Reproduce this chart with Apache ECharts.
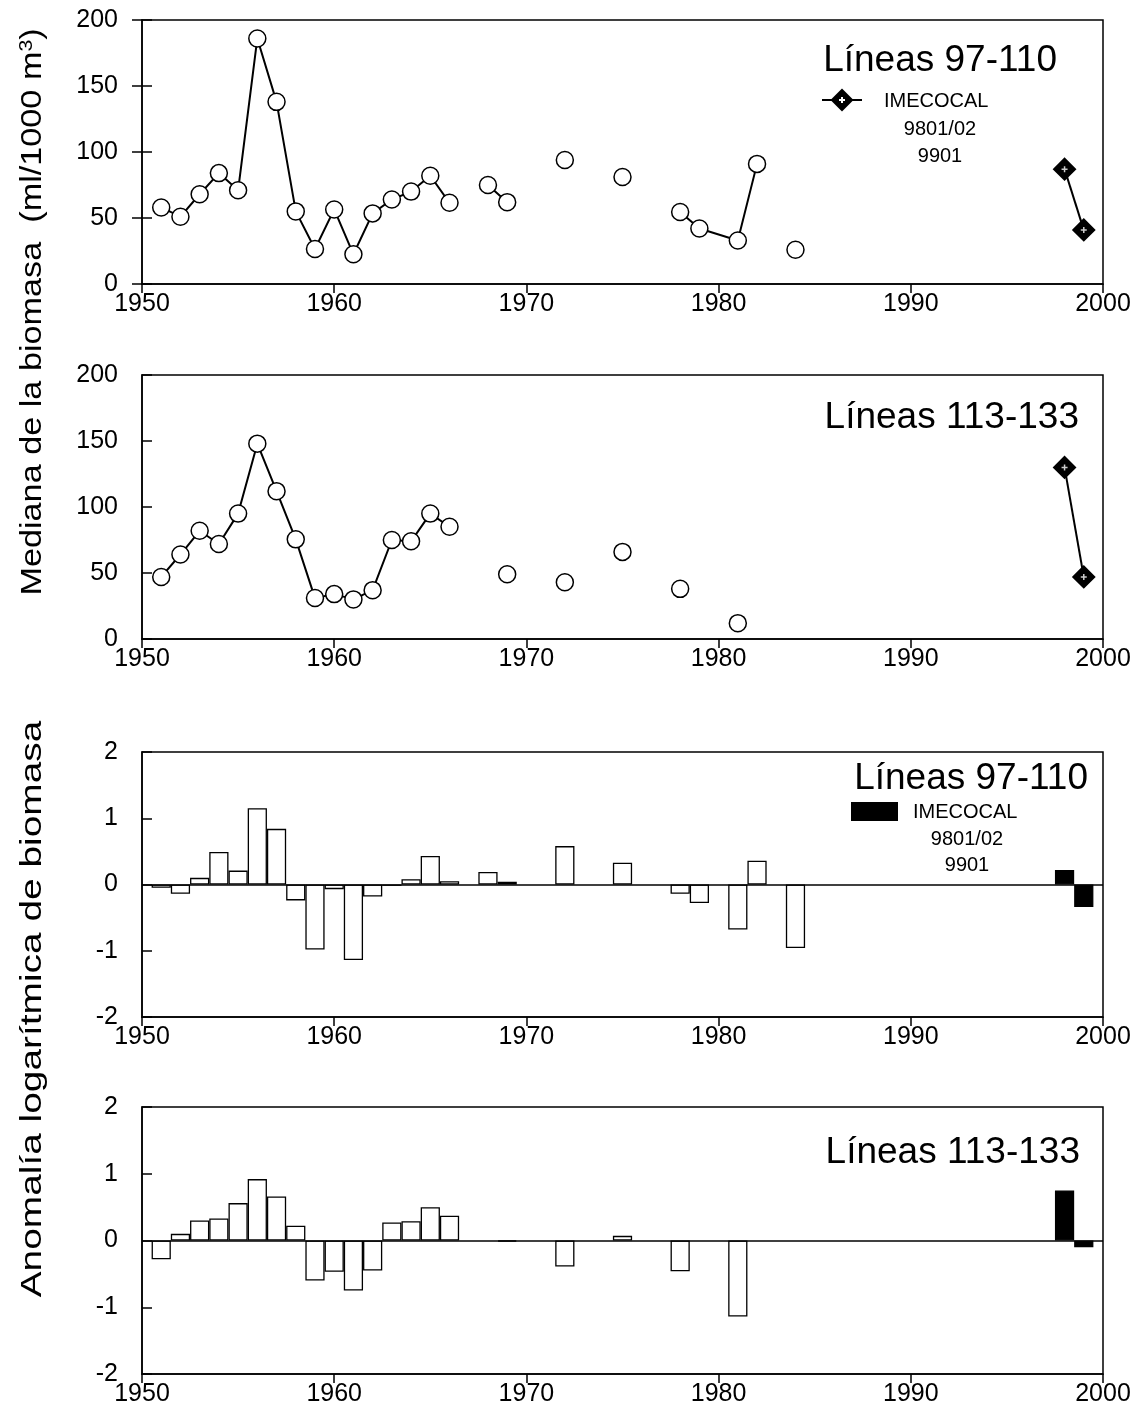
<!DOCTYPE html>
<html>
<head>
<meta charset="utf-8">
<script src="https://cdn.jsdelivr.net/npm/echarts@6/dist/echarts.min.js"></script>
<style>
  html, body { margin: 0; padding: 0; background: #fff; }
  #main { width: 1141px; height: 1426px; }
</style>
</head>
<body>
<div id="main"></div>
<script>
// --- datos: mediana de la biomasa, Líneas 97-110 (null = hueco en la línea)
var bio97Years = [1951, 1952, 1953, 1954, 1955, 1956, 1957, 1958, 1959, 1960, 1961, 1962, 1963, 1964, 1965, 1966,
                  1967, 1968, 1969, 1970, 1972, 1973, 1975, 1976, 1978, 1979, 1981, 1982, 1983, 1984];
var bio97Vals  = [58, 51, 68, 84, 71, 186, 138, 55, 26.5, 56.5, 22.5, 53.5, 64, 70, 82, 61.5,
                  null, 75, 62, null, 94, null, 81, null, 54.5, 42, 33, 91, null, 26];

// --- Líneas 113-133
var bio113Years = [1951, 1952, 1953, 1954, 1955, 1956, 1957, 1958, 1959, 1960, 1961, 1962, 1963, 1964, 1965, 1966,
                   1967, 1969, 1970, 1972, 1973, 1975, 1976, 1978, 1979, 1981];
var bio113Vals  = [47, 64, 82, 72, 95, 148, 112, 75.5, 31, 34, 30, 37, 75, 74, 95, 85,
                   null, 49, null, 43, null, 66, null, 38, null, 12];

// --- IMECOCAL (9801/02, 9901)
var imeYears = [1998, 1999];
var imeBio97 = [87, 41];
var imeBio113 = [130, 47];

// --- anomalía logarítmica de biomasa
var anom97Years = [1951, 1952, 1953, 1954, 1955, 1956, 1957, 1958, 1959, 1960, 1961, 1962, 1963, 1964, 1965, 1966,
                   1968, 1969, 1972, 1975, 1978, 1979, 1981, 1982, 1984];
var anom97Vals  = [-0.05, -0.14, 0.1, 0.49, 0.21, 1.15, 0.84, -0.24, -0.98, -0.07, -1.14, -0.18, -0.02, 0.08, 0.43, 0.05,
                   0.19, 0.04, 0.58, 0.33, -0.14, -0.28, -0.68, 0.36, -0.96];
var anom113Years = [1951, 1952, 1953, 1954, 1955, 1956, 1957, 1958, 1959, 1960, 1961, 1962, 1963, 1964, 1965, 1966,
                    1969, 1972, 1975, 1978, 1981];
var anom113Vals  = [-0.28, 0.1, 0.3, 0.33, 0.56, 0.92, 0.66, 0.22, -0.6, -0.47, -0.75, -0.45, 0.27, 0.29, 0.5, 0.37,
                    -0.015, -0.39, 0.07, -0.46, -1.14];
var imeAnom97 = [0.22, -0.34];
var imeAnom113 = [0.75, -0.1];

var xTicks = [1950, 1960, 1970, 1980, 1990, 2000];

var FONT = '"Liberation Sans", Arial, sans-serif';
var gridLeft = 142, gridWidth = 961;
var barW = gridWidth / (xTicks[xTicks.length - 1] - xTicks[0]);

function pairs(years, vals) {
    return years.map(function (y, i) { return [y, vals[i] == null ? '-' : vals[i]]; });
}

var myChart = echarts.init(document.getElementById('main'));

var grids = [
    {top: 20, height: 264},
    {top: 375, height: 264},
    {top: 752, height: 265},
    {top: 1107, height: 267}
].map(function (g) {
    return {left: gridLeft, width: gridWidth, top: g.top, height: g.height,
        show: true, borderColor: '#000', borderWidth: 1.5, backgroundColor: 'transparent'};
});

var xAxes = grids.map(function (g, i) {
    return {
        type: 'value', gridIndex: i, min: 1950, max: 2000, interval: 10,
        axisLine: {onZero: false, lineStyle: {color: '#000', width: 1.5}},
        axisTick: {show: true, inside: false, length: 9, lineStyle: {color: '#000', width: 1.5}},
        axisLabel: {color: '#000', fontSize: 25, fontFamily: FONT, margin: 8,
            formatter: function (v) { return String(v); }},
        splitLine: {show: false}
    };
});

function yAxis(i, min, max, interval) {
    return {
        type: 'value', gridIndex: i, position: 'left', min: min, max: max, interval: interval,
        axisLine: {show: true, onZero: false, lineStyle: {color: '#000', width: 1.5}},
        axisTick: {show: true, inside: true, length: 10, lineStyle: {color: '#000', width: 1.5}},
        axisLabel: {color: '#000', fontSize: 25, fontFamily: FONT, margin: 24},
        splitLine: {show: false}
    };
}

var yAxes = [
    yAxis(0, 0, 200, 50),
    yAxis(1, 0, 200, 50),
    yAxis(2, -2, 2, 1),
    yAxis(3, -2, 2, 1),
    // marcas exteriores del primer panel
    {type: 'value', gridIndex: 0, position: 'left', offset: 0, min: 0, max: 200, interval: 50,
        axisLine: {show: false, onZero: false}, axisLabel: {show: false}, splitLine: {show: false},
        axisTick: {show: true, inside: false, length: 10, lineStyle: {color: '#000', width: 1.5}}}
];

var crossPath = 'path://M3,0H5V3H8V5H5V8H3V5H0V3H3Z';

function circleLine(i, years, vals) {
    return {
        type: 'line', xAxisIndex: i, yAxisIndex: i, data: pairs(years, vals),
        symbol: 'circle', symbolSize: 17, showAllSymbol: true, connectNulls: false,
        lineStyle: {color: '#000', width: 2},
        itemStyle: {color: '#fff', borderColor: '#000', borderWidth: 1.5},
        z: 3
    };
}

function imeLine(i, vals) {
    return [{
        type: 'line', xAxisIndex: i, yAxisIndex: i, data: pairs(imeYears, vals),
        symbol: 'diamond', symbolSize: 21,
        lineStyle: {color: '#000', width: 2},
        itemStyle: {color: '#000', borderColor: '#000', borderWidth: 2}, z: 3
    }, {
        type: 'scatter', xAxisIndex: i, yAxisIndex: i, data: pairs(imeYears, vals),
        symbol: crossPath, symbolSize: 6, itemStyle: {color: '#fff'}, z: 4
    }];
}

function bars(i, years, vals, imeVals) {
    var data = pairs(years, vals).map(function (d) {
        return {value: d};
    }).concat(pairs(imeYears, imeVals).map(function (d) {
        return {value: d, itemStyle: {color: '#000'}};
    }));
    return {
        type: 'bar', xAxisIndex: i, yAxisIndex: i, data: data, barWidth: barW,
        itemStyle: {color: '#fff', borderColor: '#000', borderWidth: 1.3},
        markLine: {
            silent: true, symbol: 'none', label: {show: false},
            lineStyle: {color: '#000', width: 1.5, type: 'solid'},
            data: [{yAxis: 0}]
        }
    };
}

var series = [circleLine(0, bio97Years, bio97Vals), circleLine(1, bio113Years, bio113Vals)]
    .concat(imeLine(0, imeBio97))
    .concat(imeLine(1, imeBio113))
    .concat([bars(2, anom97Years, anom97Vals, imeAnom97), bars(3, anom113Years, anom113Vals, imeAnom113)]);

function txt(x, y, text, size, align) {
    return {type: 'text', x: x, y: y, z: 10,
        style: {text: text, fill: '#000', font: size + 'px ' + FONT,
            textAlign: align || 'left', textVerticalAlign: 'middle'}};
}

var graphic = [
    // títulos de los paneles
    txt(1057, 61, 'Líneas 97-110', 37, 'right'),
    txt(1079, 418, 'Líneas 113-133', 37, 'right'),
    txt(1088, 779, 'Líneas 97-110', 37, 'right'),
    txt(1080, 1153, 'Líneas 113-133', 37, 'right'),
    // leyenda panel 1
    {type: 'line', shape: {x1: 822, y1: 100, x2: 862, y2: 100}, style: {stroke: '#000', lineWidth: 2}, z: 10},
    {type: 'polygon', shape: {points: [[842, 88.5], [853.5, 100], [842, 111.5], [830.5, 100]]}, style: {fill: '#000'}, z: 11},
    {type: 'polygon', shape: {points: [[841, 97], [843, 97], [843, 99], [845, 99], [845, 101], [843, 101], [843, 103], [841, 103], [841, 101], [839, 101], [839, 99], [841, 99]]}, style: {fill: '#fff'}, z: 12},
    txt(884, 101, 'IMECOCAL', 20),
    txt(940, 129, '9801/02', 20, 'center'),
    txt(940, 156, '9901', 20, 'center'),
    // leyenda panel 3
    {type: 'rect', shape: {x: 851, y: 802, width: 47, height: 19}, style: {fill: '#000'}, z: 10},
    txt(913, 812, 'IMECOCAL', 20),
    txt(967, 839, '9801/02', 20, 'center'),
    txt(967, 865, '9901', 20, 'center'),
    // títulos de eje y (estirados a lo largo del texto como en el original)
    {type: 'text', x: 33, y: 312, rotation: Math.PI / 2, scaleX: 1.18, z: 10,
        style: {text: 'Mediana de la biomasa  (ml/1000 m{sup|3})', fill: '#000', font: '29px ' + FONT,
            textAlign: 'center', textVerticalAlign: 'middle',
            rich: {sup: {fontSize: 18, fontFamily: FONT, fill: '#000', verticalAlign: 'top', padding: [0, 0, 12, 0]}}}},
    {type: 'text', x: 33, y: 1009, rotation: Math.PI / 2, scaleX: 1.34, z: 10,
        style: {text: 'Anomalía logarítmica de biomasa', fill: '#000', font: '29px ' + FONT,
            textAlign: 'center', textVerticalAlign: 'middle'}}
];

var option = {
    backgroundColor: '#fff',
    animation: false,
    grid: grids,
    xAxis: xAxes,
    yAxis: yAxes,
    series: series,
    graphic: graphic
};

myChart.setOption(option);
</script>
</body>
</html>
